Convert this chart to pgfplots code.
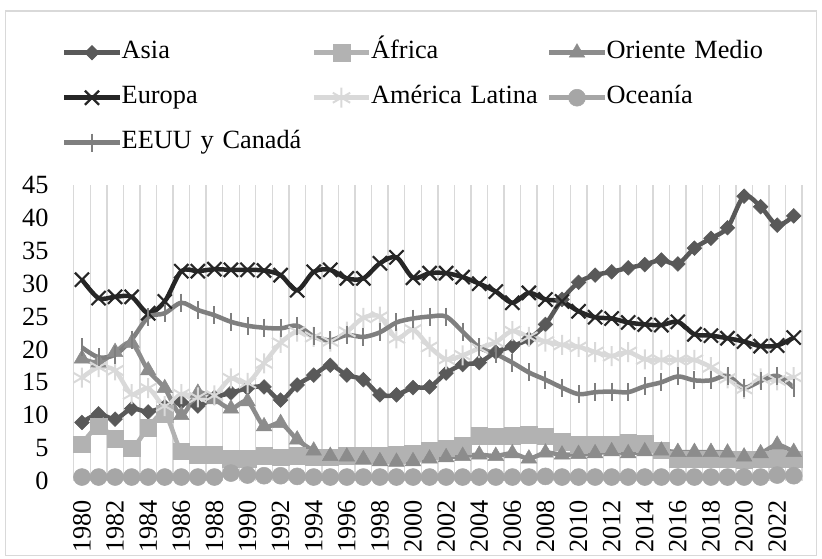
\documentclass[border=0pt]{standalone}
\usepackage{pgfplots}
\pgfplotsset{compat=1.18}
\usepackage{fontspec}
\setmainfont{Liberation Serif}
\definecolor{cAsia}{HTML}{595959}
\definecolor{cAfr}{HTML}{B2B2B2}
\definecolor{cOM}{HTML}{8C8C8C}
\definecolor{cEur}{HTML}{262626}
\definecolor{cAL}{HTML}{D9D9D9}
\definecolor{cOce}{HTML}{A6A6A6}
\definecolor{cUS}{HTML}{7F7F7F}
\definecolor{cGrid}{HTML}{D9D9D9}

\pgfplotstableread{
year asia afr om eur al oce us
1980 8.9 5.6 18.6 30.6 15.7 0.6 20.3
1981 10.2 8.3 18.0 27.8 17.3 0.6 18.8
1982 9.4 6.4 19.6 28.0 16.8 0.6 19.2
1983 11.0 5.0 21.0 28.0 13.2 0.6 21.5
1984 10.5 8.1 16.8 25.5 14.1 0.6 24.9
1985 11.3 10.2 14.1 27.3 11.4 0.6 25.5
1986 12.0 4.5 10.0 31.9 13.2 0.6 27.1
1987 11.4 4.0 13.4 31.9 12.7 0.6 26.0
1988 12.7 4.0 12.4 32.2 13.0 0.6 25.2
1989 13.4 3.4 11.0 32.1 15.6 1.2 24.2
1990 14.1 3.4 12.1 32.1 14.9 0.9 23.6
1991 14.3 3.8 8.3 32.0 17.9 0.8 23.3
1992 12.3 3.6 8.8 31.3 21.0 0.8 23.2
1993 14.6 3.8 6.3 29.0 22.7 0.7 23.6
1994 16.1 3.6 4.6 31.8 21.9 0.6 22.0
1995 17.6 3.6 3.8 32.1 21.2 0.6 21.4
1996 16.1 3.8 3.7 30.8 22.7 0.6 22.2
1997 15.4 3.8 3.3 30.8 24.8 0.6 21.9
1998 13.1 3.9 3.0 33.1 25.0 0.6 22.6
1999 13.1 4.0 2.9 34.0 21.7 0.6 24.1
2000 14.2 4.2 3.0 30.9 23.0 0.6 24.7
2001 14.3 4.6 3.4 31.6 20.4 0.6 25.0
2002 16.4 5.0 3.6 31.6 18.5 0.6 25.0
2003 17.7 5.4 3.8 31.0 19.1 0.6 22.7
2004 18.0 6.9 4.0 30.0 20.2 0.6 20.3
2005 19.6 6.8 3.8 28.8 21.1 0.6 19.3
2006 20.5 6.9 4.2 27.1 22.8 0.6 18.0
2007 21.6 7.0 3.4 28.6 21.9 0.6 16.5
2008 23.8 6.8 4.3 27.6 21.2 0.7 15.4
2009 27.6 6.0 4.0 27.3 20.7 0.6 14.2
2010 30.2 5.5 4.1 25.8 20.4 0.6 13.2
2011 31.3 5.6 4.2 24.9 19.6 0.6 13.5
2012 31.8 5.6 4.5 24.7 19.0 0.6 13.6
2013 32.4 5.8 4.2 24.1 19.6 0.6 13.5
2014 32.9 5.7 4.5 23.8 18.5 0.6 14.4
2015 33.6 4.7 4.6 23.7 18.4 0.6 15.0
2016 33.0 3.3 4.4 24.2 18.4 0.6 15.9
2017 35.4 3.3 4.4 22.3 18.4 0.6 15.3
2018 36.9 3.3 4.4 22.1 17.3 0.6 15.3
2019 38.5 3.3 4.3 21.7 15.6 0.6 16.0
2020 43.3 3.2 3.7 21.2 14.0 0.6 14.2
2021 41.7 3.3 4.2 20.5 15.6 0.6 15.2
2022 38.9 3.4 5.5 20.6 15.3 0.9 16.0
2023 40.3 3.3 4.4 21.8 15.8 0.8 14.2
}\data

\begin{document}
\begin{tikzpicture}[x=1bp,y=1bp]
\path[use as bounding box] (0,0) rectangle (822,559);
\draw[cGrid, line width=1.2bp] (5.5,3.5) rectangle (816.5,548);
\begin{axis}[
  at={(73.7bp,78bp)}, anchor=south west,
  scale only axis, width=728.3bp, height=296bp,
  xmin=1979.5, xmax=2023.5, ymin=0, ymax=45,
  axis line style={draw=none},
  tick style={draw=none},
  major tick length=0pt, minor tick length=0pt,
  xtick={1980,1982,...,2022},
  minor xtick={1979.5,1980.5,...,2023.5},
  xminorgrids=true,
  minor grid style={cGrid, line width=1.4bp},
  ytick={0,5,...,45},
  /pgf/number format/1000 sep={},
  /pgf/number format/assume math mode=true,
  tick label style={font=\fontsize{26.4}{30}\selectfont, inner sep=0pt},
  x tick label style={rotate=90, anchor=east},
  xticklabel shift=19bp,
  yticklabel shift=25bp,
  clip=false,
  legend columns=3,
  legend cell align=left,
  legend style={draw=none, fill=none, inner sep=0pt,
    at={(-0.016,1.488)}, anchor=north west,
    font=\fontsize{26.4}{30}\selectfont,
    nodes={text width=172bp, inner xsep=0pt, inner ysep=0pt, text height=18bp, text depth=6bp},
    row sep=21bp,
    /tikz/every odd column/.append style={column sep=0bp},
    /tikz/column 2/.append style={column sep=18bp},
    /tikz/column 4/.append style={column sep=4bp}},
  legend image code/.code={\draw[mark repeat=2,mark phase=2,#1] plot coordinates {(0bp,0bp) (27.5bp,0bp) (55bp,0bp)};},
  every axis plot/.append style={line width=4.5bp, smooth},
]
\addplot[cAsia, mark=square*, mark size=5.2bp, mark options={rotate=45, line width=0.5bp, fill=cAsia}] table[x=year,y=asia]{\data};
\addlegendentry{Asia}
\addplot[cAfr, mark=square*, mark size=8.3bp, mark options={line width=0.5bp, fill=cAfr}] table[x=year,y=afr]{\data};
\addlegendentry{África}
\addplot[cOM, mark=triangle*, mark size=9bp, mark options={line width=0.5bp, fill=cOM}] table[x=year,y=om]{\data};
\addlegendentry{Oriente Medio}
\addplot[cEur, mark=x, mark size=10bp, mark options={line width=2.2bp, solid}] table[x=year,y=eur]{\data};
\addlegendentry{Europa}
\addplot[cAL, mark=asterisk, mark size=10bp, mark options={line width=2bp}] table[x=year,y=al]{\data};
\addlegendentry{América Latina}
\addplot[cOce, mark=*, mark size=8.5bp, mark options={line width=0.5bp, fill=cOce}] table[x=year,y=oce]{\data};
\addlegendentry{Oceanía}
\addplot[cUS, mark=|, mark size=9bp, mark options={line width=2bp}] table[x=year,y=us]{\data};
\addlegendentry{\mbox{EEUU y Canadá}}
\end{axis}
\end{tikzpicture}
\end{document}
